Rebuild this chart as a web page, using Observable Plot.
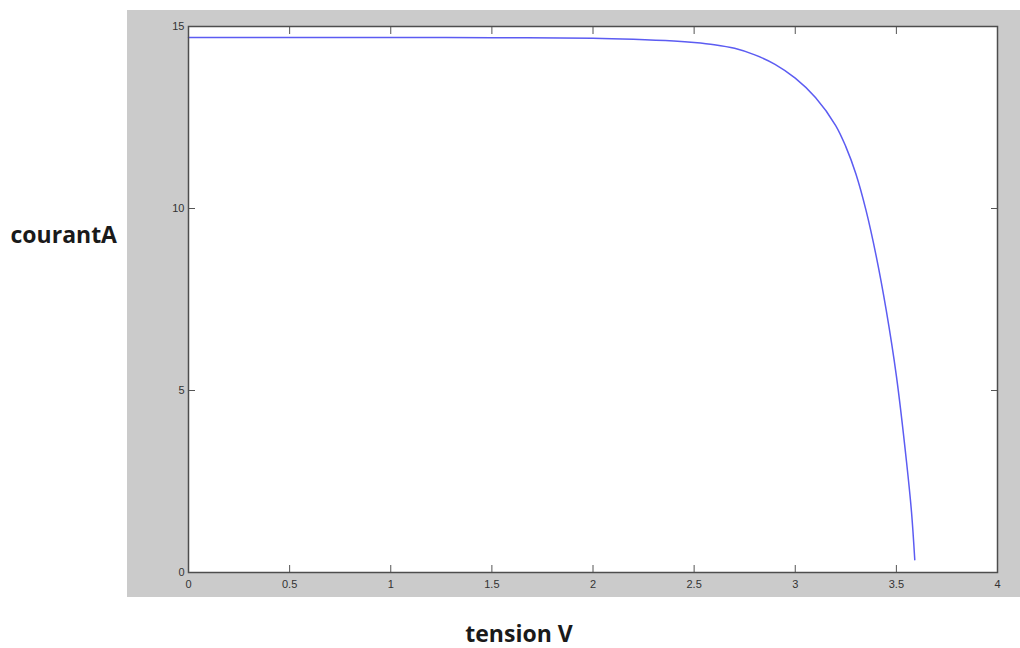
<!DOCTYPE html>
<html>
<head>
<meta charset="utf-8">
<script src="https://cdn.jsdelivr.net/npm/d3@7"></script>
<script src="https://cdn.jsdelivr.net/npm/@observablehq/plot@0.6"></script>
<style>
  html, body { margin: 0; padding: 0; background: #ffffff; }
  #wrap { position: relative; width: 1020px; height: 648px; overflow: hidden; }
  #bg { position: absolute; left: 127px; top: 10px; width: 893px; height: 587px; background: #cbcbcb; }
  #chart { position: absolute; left: 0; top: 0; }
</style>
</head>
<body>
<div id="wrap"><div id="bg"></div><div id="chart"></div></div>
<script>
// I-V curve
const tension = [0, 0.5, 1.0, 1.5, 2.0, 2.2, 2.4, 2.5, 2.6, 2.7, 2.8, 2.9, 3.0, 3.1, 3.2, 3.25, 3.3, 3.35, 3.4, 3.45, 3.5, 3.55, 3.575, 3.591];
const courant = [14.70, 14.70, 14.70, 14.69, 14.68, 14.65, 14.60, 14.56, 14.50, 14.40, 14.22, 13.96, 13.58, 13.05, 12.28, 11.70, 10.95, 9.95, 8.70, 7.20, 5.40, 3.05, 1.65, 0.35];
const xTicks = [0, 0.5, 1, 1.5, 2, 2.5, 3, 3.5, 4];
const yTicks = [0, 5, 10, 15];
const xLabel = "tension V";
const yLabel = "courantA";

const data = tension.map((v, i) => ({v, i: courant[i]}));

const tickColor = "#555555";
const labelFont = "'Open Sans', 'DejaVu Sans', sans-serif";

const plot = Plot.plot({
  width: 1020,
  height: 648,
  marginLeft: 188,
  marginRight: 23,
  marginTop: 26,
  marginBottom: 76,
  style: {background: "transparent", fontFamily: "'Liberation Sans', Arial, sans-serif", fontSize: "11px", color: "#333"},
  x: {domain: [0, 4]},
  y: {domain: [0, 15]},
  marks: [
    Plot.frame({fill: "white", stroke: null}),
    Plot.line(data, {x: "v", y: "i", stroke: "#5c5cf2", strokeWidth: 1.5, curve: "catmull-rom"}),
    // tick labels
    Plot.axisX({ticks: xTicks, tickSize: 0, tickPadding: 8, tickFormat: d => String(d), label: null, fill: "#333"}),
    Plot.axisY({ticks: yTicks, tickSize: 0, tickPadding: 4, tickFormat: d => String(d), label: null, fill: "#333"}),
    // inward ticks on all four sides
    Plot.axisX({ticks: xTicks, anchor: "bottom", tickSize: -7, text: null, label: null, stroke: tickColor}),
    Plot.axisX({ticks: xTicks, anchor: "top", tickSize: -7, text: null, label: null, stroke: tickColor}),
    Plot.axisY({ticks: yTicks, anchor: "left", tickSize: -7, text: null, label: null, stroke: tickColor}),
    Plot.axisY({ticks: yTicks, anchor: "right", tickSize: -7, text: null, label: null, stroke: tickColor}),
    Plot.frame({stroke: "#4d4d4d", strokeWidth: 1.5}),
    // axis titles
    Plot.text([xLabel], {frameAnchor: "bottom", dx: -74, dy: 62, text: d => d, textAnchor: "middle", lineAnchor: "middle",
      fontSize: 23, fontWeight: "bold", fontFamily: labelFont, fill: "#1a1a1a"}),
    Plot.text([yLabel], {frameAnchor: "left", dx: -178, dy: -64, text: d => d, textAnchor: "start", lineAnchor: "middle",
      fontSize: 23, fontWeight: "bold", fontFamily: labelFont, fill: "#1a1a1a"})
  ]
});
document.getElementById("chart").appendChild(plot);
</script>
</body>
</html>
